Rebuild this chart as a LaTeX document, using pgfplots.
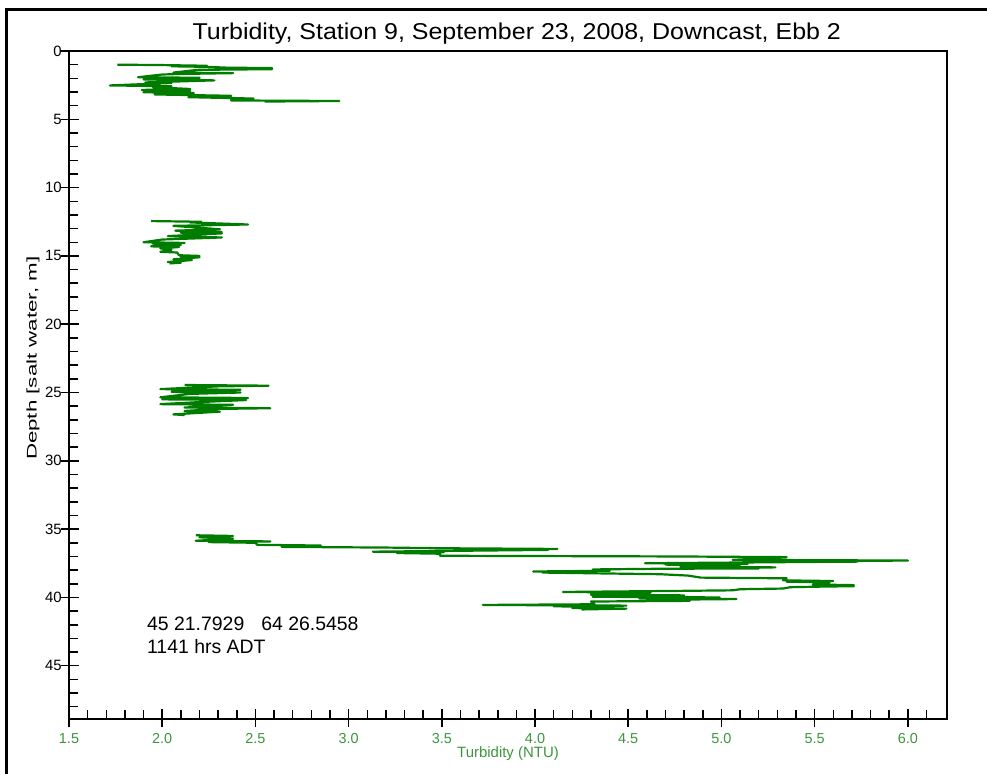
\documentclass[border=0pt]{standalone}
\usepackage{fontspec}
\setmainfont{Liberation Sans}
\usepackage{pgfplots}
\pgfplotsset{compat=1.18}
\definecolor{datagreen}{RGB}{0,125,0}
\definecolor{labgreen}{RGB}{60,150,60}
\begin{document}
\begin{tikzpicture}
\path[use as bounding box] (0,0) rectangle (987bp,774bp);
\draw[line width=3bp] (6bp,0) -- (6bp,764bp) -- (987bp,764bp);
\begin{axis}[
  at={(69bp,55bp)}, anchor=south west,
  scale only axis, width=878bp, height=668bp,
  xmin=1.5, xmax=6.21, ymin=0, ymax=48.9, y dir=reverse,
  axis line style={line width=1.8bp},
  /pgf/number format/assume math mode=true,
  xtick pos=bottom, ytick pos=left,
  xtick={1.5,2.0,2.5,3.0,3.5,4.0,4.5,5.0,5.5,6.0},
  xticklabels={1.5,2.0,2.5,3.0,3.5,4.0,4.5,5.0,5.5,6.0},
  ytick={0,5,10,15,20,25,30,35,40,45},
  minor xtick={1.6,1.7,1.8,1.9,2.1,2.2,2.3,2.4,2.6,2.7,2.8,2.9,3.1,3.2,3.3,3.4,3.6,3.7,3.8,3.9,4.1,4.2,4.3,4.4,4.6,4.7,4.8,4.9,5.1,5.2,5.3,5.4,5.6,5.7,5.8,5.9,6.1},
  minor ytick={1,2,3,4,6,7,8,9,11,12,13,14,16,17,18,19,21,22,23,24,26,27,28,29,31,32,33,34,36,37,38,39,41,42,43,44,46,47,48},
  tick align=inside, major tick length=10bp, minor tick length=9bp,
  tick style={black, line width=1.5bp},
  extra x ticks={1.5,2.0,2.5,3.0,3.5,4.0,4.5,5.0,5.5,6.0},
  extra x tick labels={},
  extra y ticks={0,5,10,15,20,25,30,35,40,45},
  extra y tick labels={},
  extra tick style={tick align=outside, major tick length=8bp},
  xticklabel style={font=\fontsize{14.5}{16}\selectfont, text=labgreen, inner sep=0pt, yshift=-14bp},
  yticklabel style={font=\fontsize{15}{17}\selectfont, text=black, inner sep=0pt, xshift=-7bp},
  title={\scalebox{1.09}[1]{Turbidity, Station 9, September 23, 2008, Downcast, Ebb 2}},
  title style={at={(axis description cs:0.51,1)}, anchor=base, yshift=6bp, font=\fontsize{23}{27}\selectfont},
  xlabel={Turbidity (NTU)},
  xlabel style={at={(axis description cs:0.5,0)}, anchor=base, yshift=-38bp, font=\fontsize{15}{17}\selectfont, text=labgreen},
  ylabel={\scalebox{1.6}[1]{Depth [salt water, m]}},
  ylabel style={at={(axis description cs:-0.041,0.54)}, anchor=center, font=\fontsize{14}{16}\selectfont},
  clip=false,
]
\addplot[datagreen, line width=2.2bp, line join=round] coordinates {
(1.76,1.00)(2.00,1.03)(2.24,1.08)(2.05,1.12)(2.24,1.16)(2.35,1.22)(2.59,1.25)(2.40,1.30)(2.59,1.33)(2.19,1.38)
(2.06,1.58)(2.38,1.62)(2.10,1.68)(2.00,1.72)(1.87,1.92)(2.20,1.96)(1.92,2.00)(2.20,2.04)(1.90,2.08)(2.28,2.15)
(1.91,2.30)(2.05,2.34)(1.72,2.52)(2.05,2.58)(1.95,2.65)(2.15,2.78)(1.89,2.85)(2.15,2.92)(1.90,3.02)(2.17,3.08)
(1.96,3.18)(2.37,3.28)(2.14,3.38)(2.49,3.48)(2.37,3.55)(2.49,3.58)(2.37,3.62)(2.95,3.66)(2.55,3.70)
};
\addplot[datagreen, line width=2.2bp, line join=round] coordinates {
(1.94,12.45)(2.21,12.50)(2.15,12.55)(2.46,12.70)(2.06,12.80)(2.31,13.05)(2.07,13.15)(2.32,13.25)(2.10,13.30)(2.32,13.35)
(2.03,13.55)(2.32,13.65)(2.00,13.80)(1.90,14.00)(2.12,14.05)(1.95,14.10)(2.10,14.20)(1.94,14.30)(2.09,14.35)(1.99,14.45)
(2.05,14.55)(1.99,14.70)(2.08,14.75)(2.09,14.95)(2.20,15.00)(2.10,15.05)(2.20,15.10)(2.06,15.25)(2.16,15.30)(2.03,15.45)
(2.10,15.50)(2.04,15.55)
};
\addplot[datagreen, line width=2.2bp, line join=round] coordinates {
(2.12,24.45)(2.57,24.50)(2.30,24.55)(1.99,24.75)(2.42,24.80)(2.05,24.95)(2.42,25.00)(2.15,25.10)(1.99,25.35)(2.46,25.40)
(2.00,25.50)(2.45,25.55)(2.20,25.70)(1.99,25.85)(2.38,25.90)(2.12,26.10)(2.58,26.15)(2.30,26.20)(2.12,26.35)(2.31,26.40)
(2.06,26.60)(2.12,26.65)
};
\addplot[datagreen, line width=2.2bp, line join=round] coordinates {
(2.18,35.45)(2.38,35.50)(2.20,35.60)(2.38,35.70)(2.18,35.85)(2.58,35.90)(2.25,35.95)(2.50,36.00)(2.51,36.15)(2.85,36.20)
(2.64,36.30)(3.20,36.35)(3.51,36.40)(4.12,36.45)(3.80,36.50)(4.07,36.52)(3.13,36.65)(3.51,36.70)(3.26,36.75)(3.49,36.80)
(3.49,36.95)(4.74,37.00)(5.35,37.05)(5.06,37.25)(6.00,37.30)(5.47,37.35)(5.73,37.38)(5.50,37.40)
(4.59,37.50)(5.14,37.55)(4.70,37.60)(5.10,37.62)(4.78,37.75)(5.29,37.80)(4.85,37.85)(5.20,37.88)(4.68,37.90)(4.31,37.95)
(4.40,38.05)(3.99,38.10)(4.24,38.15)(4.04,38.18)(4.40,38.25)(4.67,38.30)(4.82,38.40)(4.89,38.55)(5.35,38.60)(5.33,38.75)
(5.60,38.80)(5.35,38.85)(5.58,38.90)(5.49,39.05)(5.71,39.10)(5.50,39.15)(5.71,39.18)(5.57,39.20)(5.37,39.25)(5.33,39.35)
(5.10,39.40)(5.06,39.48)(4.78,39.52)(4.15,39.60)(4.62,39.65)(4.30,39.70)(4.60,39.72)(4.30,39.80)(4.80,39.85)(4.31,39.95)
(4.99,40.00)(4.56,40.08)(5.08,40.12)(4.60,40.18)(4.83,40.25)(4.30,40.30)(4.32,40.50)(3.72,40.55)(4.49,40.60)(4.10,40.65)(4.42,40.70)
(4.20,40.78)(4.49,40.82)(4.25,40.88)
};
\node[anchor=base west, inner sep=0pt, font=\fontsize{19.5}{22}\selectfont] at (axis cs:1.918,42.4) {45 21.7929\hspace{17bp}64 26.5458};
\node[anchor=base west, inner sep=0pt, font=\fontsize{19.5}{22}\selectfont] at (axis cs:1.918,44.1) {1141 hrs ADT};
\end{axis}
\end{tikzpicture}
\end{document}
